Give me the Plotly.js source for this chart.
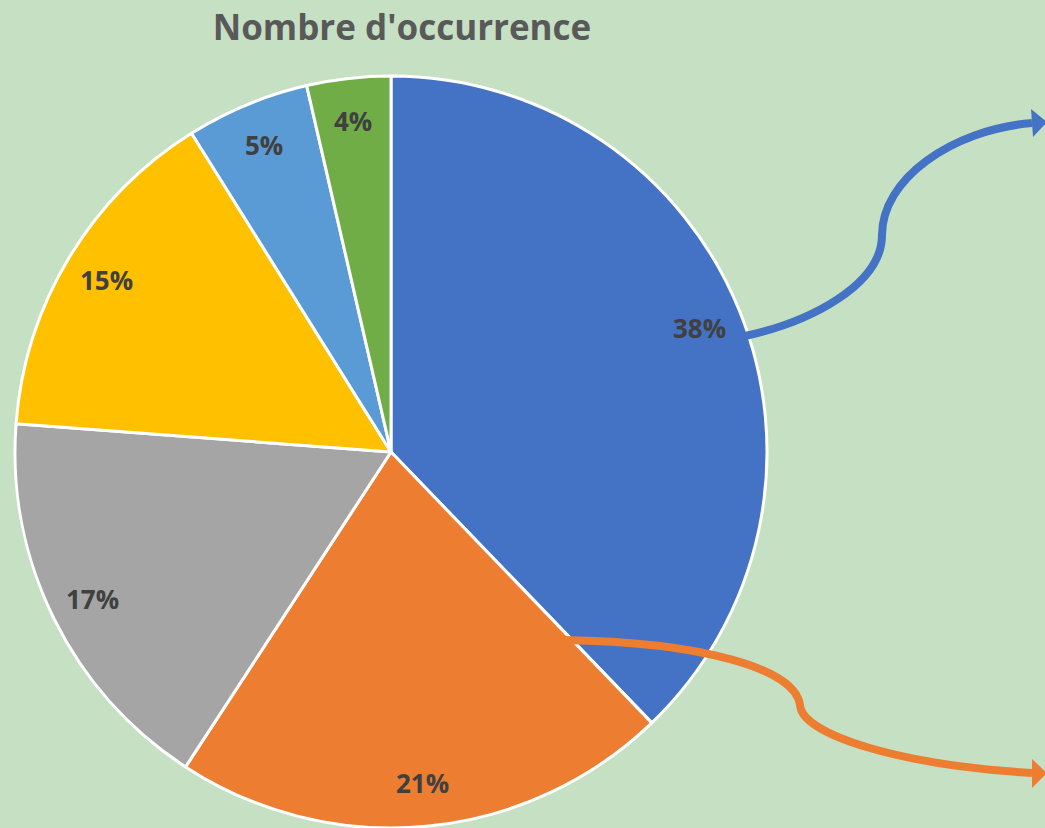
<!DOCTYPE html>
<html>
<head>
<meta charset="utf-8">
<script src="https://cdn.plot.ly/plotly-3.0.1.min.js"></script>
<style>html,body{margin:0;padding:0;background:#C6E0C4;}#chart{width:1045px;height:828px;}</style>
</head>
<body>
<div id="chart"></div>
<script>
// Data (share of occurrences in %)
const categories = ['Catégorie 1', 'Catégorie 2', 'Catégorie 3', 'Catégorie 4', 'Catégorie 5', 'Catégorie 6'];
const values = [37.8, 21.4, 17.0, 14.9, 5.3, 3.6];
const colors = ['#4472C4', '#ED7D31', '#A5A5A5', '#FFC000', '#5B9BD5', '#70AD47'];
const titleText = "Nombre d'occurrence";

const W = 1045, H = 828;
const cx = 391, cy = 452, R = 376;          // pie geometry in pixels
const px = x => x / W;
const py = y => (H - y) / H;
function pathPaper(pts) { // pts: array of commands [cmd, x1,y1, ...] in pixels
  return pts.map(p => p[0] + ' ' + p.slice(1).map((v, i) => i % 2 === 0 ? px(v).toFixed(5) : py(v).toFixed(5)).join(',')).join(' ');
}

const total = values.reduce((a, b) => a + b, 0);
const labelTexts = values.map(v => Math.round(v / total * 100) + '%');

// label annotations placed at the mid-angle of each slice
const annotations = [];
let cum = 0;
values.forEach((v, i) => {
  const mid = (cum + v / 2) / total * 2 * Math.PI;
  cum += v;
  const k = 0.885;
  const x = cx + k * R * Math.sin(mid);
  const y = cy - k * R * Math.cos(mid);
  annotations.push({
    x: px(x), y: py(y), xref: 'paper', yref: 'paper', showarrow: false,
    text: '<b>' + labelTexts[i] + '</b>',
    font: {family: 'Open Sans, sans-serif', size: 26, color: '#404040'},
    xanchor: 'center', yanchor: 'middle'
  });
});

const bluePath = pathPaper([['M', 745, 336], ['C', 810, 322, 882, 285, 882, 235], ['C', 882, 180, 950, 130, 1032, 123]]);
const orangePath = pathPaper([['M', 563, 640], ['C', 700, 642, 795, 668, 800, 705], ['C', 802, 735, 900, 765, 1032, 773]]);
const blueHead = pathPaper([['M', 1047, 122], ['L', 1031, 109], ['L', 1033, 137], ['Z']]);
const orangeHead = pathPaper([['M', 1047, 773], ['L', 1032, 759], ['L', 1032, 788], ['Z']]);

const data = [{
  type: 'pie',
  labels: categories,
  values: values,
  sort: false,
  direction: 'clockwise',
  rotation: 0,
  textinfo: 'none',
  hoverinfo: 'label+percent',
  marker: {colors: colors, line: {color: '#FFFFFF', width: 3}},
  domain: {x: [px(cx - R), px(cx + R)], y: [py(cy + R), py(cy - R)]},
  showlegend: false
}];

const layout = {
  width: W, height: H,
  margin: {l: 0, r: 0, t: 0, b: 0},
  paper_bgcolor: '#C6E0C4',
  plot_bgcolor: '#C6E0C4',
  title: {
    text: '<b>' + titleText + '</b>',
    x: px(402), xref: 'paper', xanchor: 'center',
    y: 1 - 28 / H, yref: 'container', yanchor: 'middle',
    font: {family: 'Open Sans, sans-serif', size: 35, color: '#595959'}
  },
  annotations: annotations,
  shapes: [
    {type: 'path', xref: 'paper', yref: 'paper', path: bluePath, line: {color: '#4472C4', width: 8}, fillcolor: 'rgba(0,0,0,0)', layer: 'above'},
    {type: 'path', xref: 'paper', yref: 'paper', path: blueHead, line: {color: '#4472C4', width: 0}, fillcolor: '#4472C4', layer: 'above'},
    {type: 'path', xref: 'paper', yref: 'paper', path: orangePath, line: {color: '#ED7D31', width: 8}, fillcolor: 'rgba(0,0,0,0)', layer: 'above'},
    {type: 'path', xref: 'paper', yref: 'paper', path: orangeHead, line: {color: '#ED7D31', width: 0}, fillcolor: '#ED7D31', layer: 'above'}
  ]
};

Plotly.newPlot('chart', data, layout, {displayModeBar: false, staticPlot: true});
</script>
</body>
</html>
